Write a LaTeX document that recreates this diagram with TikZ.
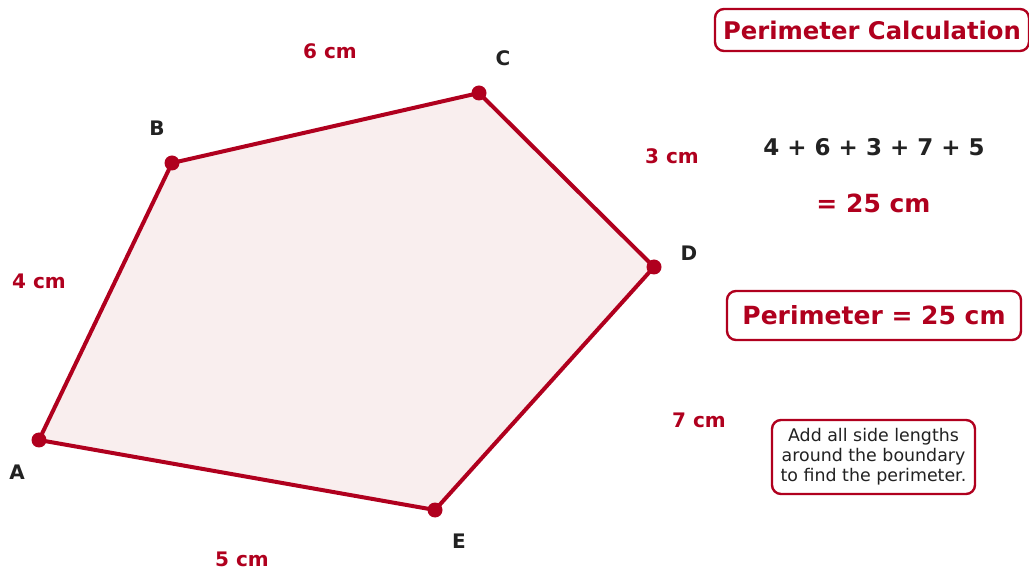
\documentclass[tikz,border=0pt]{standalone}
\usepackage{fontspec}
\setmainfont{DejaVu Sans}
\definecolor{crim}{HTML}{B0001E}
\definecolor{pinkfill}{HTML}{F9EEEE}
\definecolor{ink}{HTML}{222222}
\begin{document}
\begin{tikzpicture}[x=1pt,y=-1pt,
  vdot/.style={circle,fill=crim,inner sep=0pt,minimum size=15pt},
  vlab/.style={text=ink,font=\fontsize{20}{24}\selectfont\bfseries},
  slab/.style={text=crim,font=\fontsize{20}{24}\selectfont\bfseries},
  rbox/.style={draw=crim,line width=2.4pt,rounded corners=9pt,fill=white,inner sep=0pt}]
\useasboundingbox (0,0) rectangle (1029,569);
% vertices
\coordinate (A) at (39,440);
\coordinate (B) at (172,163);
\coordinate (C) at (479,93);
\coordinate (D) at (654,267);
\coordinate (E) at (435,510);
\filldraw[fill=pinkfill,draw=crim,line width=4pt,line join=round]
  (A) -- (B) -- (C) -- (D) -- (E) -- cycle;
\foreach \p in {A,B,C,D,E} \node[vdot] (dot\p) at (\p) {};
% vertex labels
\node[vlab] (lA) at (17,472) {A};
\node[vlab] (lB) at (157,128) {B};
\node[vlab] (lC) at (503,58) {C};
\node[vlab] (lD) at (689,253) {D};
\node[vlab] (lE) at (459,541) {E};
% side labels
\node[slab] (sAB) at (39,281) {4 cm};
\node[slab] (sBC) at (330,51) {6 cm};
\node[slab] (sCD) at (672,156) {3 cm};
\node[slab] (sDE) at (699,420) {7 cm};
\node[slab] (sEA) at (242,559) {5 cm};
% right panel
\node[rbox,minimum width=314pt,minimum height=42pt,text=crim,font=\fontsize{24.3}{28}\selectfont\bfseries] (title) at (872,30) {Perimeter Calculation};
\node[text=ink,font=\fontsize{23}{27}\selectfont\bfseries] (sum) at (874,147) {4 + 6 + 3 + 7 + 5};
\node[text=crim,font=\fontsize{25}{29}\selectfont\bfseries] (res) at (873.5,203) {= 25 cm};
\node[rbox,minimum width=294pt,minimum height=49pt,text=crim,font=\fontsize{25}{29}\selectfont\bfseries] (per) at (874,315.5) {Perimeter = 25 cm};
\node[rbox,minimum width=203pt,minimum height=74pt,text=ink,align=center,font=\fontsize{17.4}{20}\selectfont] (note) at (873.5,457) {Add all side lengths\\around the boundary\\to find the perimeter.};
\end{tikzpicture}
\end{document}
